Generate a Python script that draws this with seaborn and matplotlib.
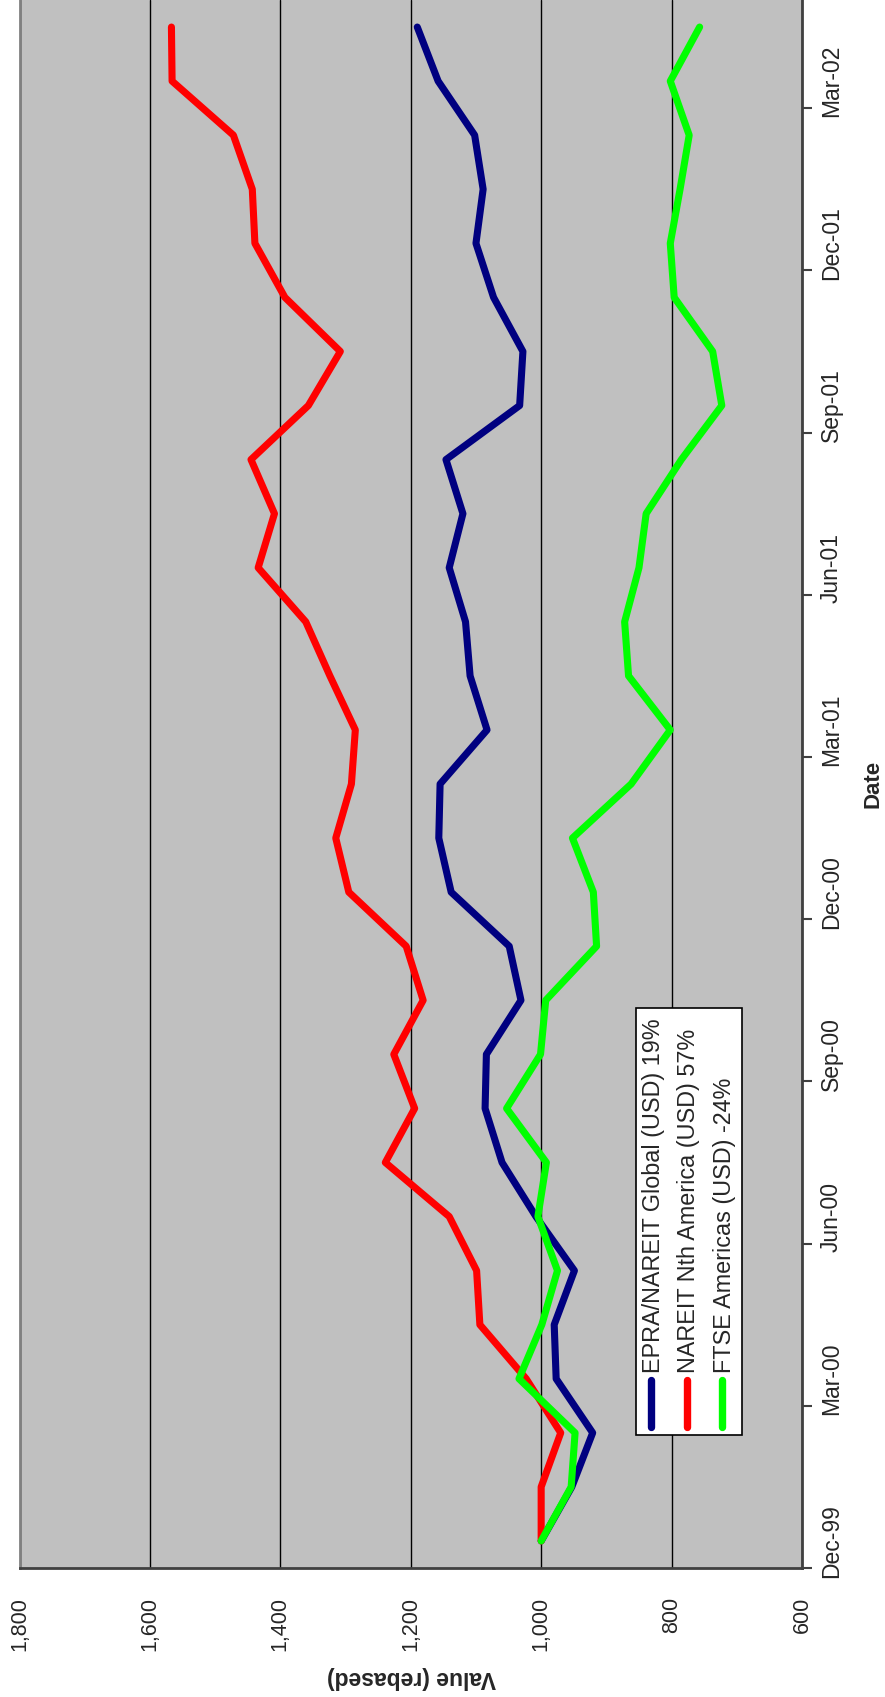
import numpy as np
import pandas as pd
import seaborn as sns
import matplotlib
matplotlib.use("Agg")
from matplotlib import pyplot as plt
from matplotlib.lines import Line2D
from matplotlib.patches import Rectangle
from matplotlib.ticker import FuncFormatter

# monthly categories, Dec-99 .. Apr-02
months = ["Dec-99", "Jan-00", "Feb-00", "Mar-00", "Apr-00", "May-00", "Jun-00",
          "Jul-00", "Aug-00", "Sep-00", "Oct-00", "Nov-00", "Dec-00", "Jan-01",
          "Feb-01", "Mar-01", "Apr-01", "May-01", "Jun-01", "Jul-01", "Aug-01",
          "Sep-01", "Oct-01", "Nov-01", "Dec-01", "Jan-02", "Feb-02", "Mar-02",
          "Apr-02"]

epra_global = [1000, 953, 921, 977, 980, 949, 1008, 1060, 1086, 1084, 1031, 1049,
               1138, 1157, 1155, 1083, 1109, 1116, 1141, 1120, 1146, 1033, 1028,
               1073, 1100, 1089, 1102, 1158, 1190]
nareit_na = [1000, 1000, 970, 1023, 1094, 1099, 1141, 1239, 1194, 1226, 1181, 1207,
             1295, 1315, 1291, 1285, 1324, 1361, 1434, 1409, 1445, 1357, 1308,
             1393, 1439, 1443, 1472, 1566, 1567]
ftse_americas = [1000, 954, 948, 1034, 999, 975, 1005, 992, 1053, 1001, 993, 915,
                 920, 952, 862, 802, 866, 872, 850, 839, 785, 723, 737, 796, 802,
                 787, 773, 802, 757]

names = ["EPRA/NAREIT Global (USD) 19%", "NAREIT Nth America (USD) 57%",
         "FTSE Americas (USD) -24%"]
colors = ["#000080", "#FF0000", "#00FF00"]

rows = []
for name, vals in zip(names, [epra_global, nareit_na, ftse_americas]):
    for i, v in enumerate(vals):
        rows.append({"series": name, "month": months[i], "pos": i + 0.5, "value": v})
df = pd.DataFrame(rows)

sns.set_theme(style="white")
plt.rcParams["font.family"] = ["Liberation Sans", "DejaVu Sans"]

W, H = 885, 1697
fx = lambda px: px / W
fy = lambda py: 1 - py / H

fig = plt.figure(figsize=(W / 100, H / 100), dpi=100)
ax = fig.add_axes([fx(19.5), fy(1568), fx(802) - fx(19.5), 1568 / H])
ax.set_facecolor("#C0C0C0")

sns.lineplot(data=df, x="value", y="pos", hue="series", hue_order=names,
             palette=colors, orient="y", sort=False, estimator=None,
             linewidth=5.1, legend=False, ax=ax)
for ln in ax.lines:
    ln.set_solid_capstyle("round")
    ln.set_solid_joinstyle("round")

# value axis (horizontal, reversed: chart is turned on its side)
ax.set_xlim(1800, 600)
ax.set_xticks(range(600, 1801, 200))
ax.xaxis.set_major_formatter(FuncFormatter(lambda v, p: f"{int(v):,}"))
ax.tick_params(axis="x", direction="out", length=7, width=1.5, color="#404040",
               pad=14, labelsize=15.5, labelrotation=90)
ax.grid(axis="x", color="black", linewidth=1)
ax.grid(axis="y", visible=False)
ax.set_axisbelow(True)
ax.set_xlabel("")
ax.set_ylabel("")

# date axis on the right
ax.set_ylim(0, len(months))
ax.yaxis.tick_right()
ax.set_yticks(range(0, len(months), 3))
ax.set_yticks([i + 0.5 for i in range(0, len(months), 3)], minor=True)
ax.set_yticklabels([])
ax.set_yticklabels([months[i] for i in range(0, len(months), 3)], minor=True)
ax.tick_params(axis="y", which="major", direction="out", length=7, width=1.5,
               color="#404040", labelright=False, labelleft=False)
ax.tick_params(axis="y", which="minor", length=0, pad=13, labelsize=16.5,
               labelright=True, labelleft=False)
for lab in ax.get_yticklabels(minor=True):
    lab.set_rotation(90)
    lab.set_va("center")
    lab.set_ha("left")

ax.spines["top"].set_visible(False)
ax.spines["left"].set_color("#808080")
ax.spines["left"].set_linewidth(2)
ax.spines["bottom"].set_color("#404040")
ax.spines["bottom"].set_linewidth(2)
ax.spines["right"].set_color("#404040")
ax.spines["right"].set_linewidth(2)

# legend, turned with the chart
fig.add_artist(Rectangle((fx(636), fy(1435)), fx(742) - fx(636), fy(1008) - fy(1435),
                         transform=fig.transFigure, facecolor="white",
                         edgecolor="black", linewidth=1.2, zorder=5))
for name, c, x in zip(names, colors, [651, 686.5, 722]):
    fig.add_artist(Line2D([fx(x), fx(x)], [fy(1427), fy(1380)], color=c,
                          linewidth=5.3, solid_capstyle="round",
                          transform=fig.transFigure, zorder=6))
    fig.text(fx(x + 2.5), fy(1373), name, rotation=90, ha="center", va="bottom",
             fontsize=16.8, zorder=6)

fig.text(fx(411), fy(1677), "Value (rebased)", rotation=180, ha="center",
         va="center", fontsize=16.5, fontweight="bold")
fig.text(fx(883.5), fy(784), "Date", rotation=90, ha="right", va="center",
         fontsize=16, fontweight="bold")

fig.savefig("out.png", dpi=100)
